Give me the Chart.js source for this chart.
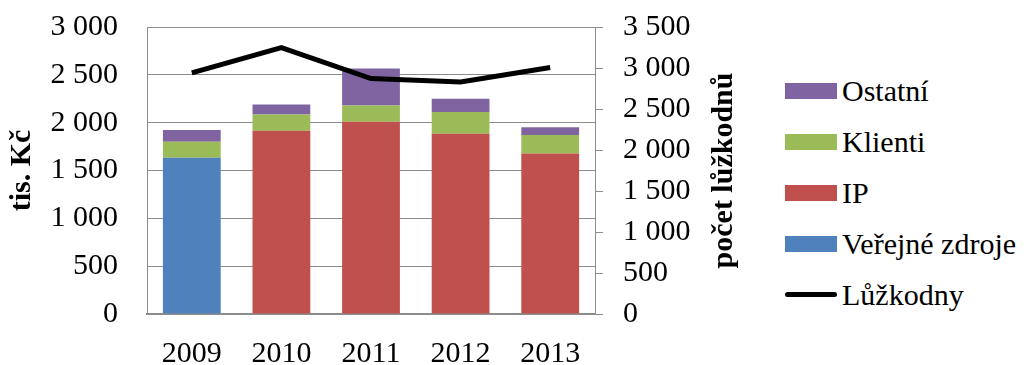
<!DOCTYPE html>
<html>
<head>
<meta charset="utf-8">
<script src="https://cdn.jsdelivr.net/npm/chart.js@4.4.1/dist/chart.umd.min.js"></script>
<style>
  html, body { margin: 0; padding: 0; background: #fff; }
  #wrap { position: relative; width: 1029px; height: 365px; }
  #box { position: absolute; left: 0; top: 0; width: 760px; height: 365px; }
  #legend { position: absolute; left: 785px; top: 65px; font-family: "Liberation Serif", "Times New Roman", serif; font-size: 30px; color: #000; }
  .item { display: flex; align-items: center; height: 51px; white-space: nowrap; }
  .swatch { width: 52px; height: 16px; margin-right: 5px; }
  .swatch.line { height: 5px; border-radius: 3px; }
</style>
</head>
<body>
<div id="wrap">
  <div id="box"><canvas id="chart"></canvas></div>
  <div id="legend"></div>
</div>
<script>
const years = ['2009', '2010', '2011', '2012', '2013'];

// financing sources, tis. Kč (stacked, bottom to top)
const verejneZdroje = [1634, 0, 0, 0, 0];
const ip = [0, 1916, 2010, 1885, 1679];
const klienti = [167, 170, 170, 226, 192];
const ostatni = [122, 105, 386, 139, 80];

// bed-days, right axis
const luzkodny = [2940, 3248, 2871, 2830, 3005];

const leftTicksMax = 3000;
const rightTicksMax = 3500;

const FONT = '"Liberation Serif", "Times New Roman", serif';
const GRID = '#8c8c8c';

const fmt = (v) => String(v).replace(/\B(?=(\d{3})+(?!\d))/g, ' ');

const barSeries = [
    { label: 'Veřejné zdroje', data: verejneZdroje, color: '#4f81bd' },
    { label: 'IP', data: ip, color: '#c0504d' },
    { label: 'Klienti', data: klienti, color: '#9bbb59' },
    { label: 'Ostatní', data: ostatni, color: '#8064a2' },
];

const datasets = [
    {
        type: 'line',
        label: 'Lůžkodny',
        data: luzkodny,
        yAxisID: 'y2',
        borderColor: '#000',
        borderWidth: 5,
        pointRadius: 0,
        tension: 0,
        order: 0,
    },
    ...barSeries.map((s) => ({
        type: 'bar',
        label: s.label,
        data: s.data,
        backgroundColor: s.color,
        yAxisID: 'y',
        stack: 'fin',
        categoryPercentage: 1,
        barPercentage: 0.645,
        order: 1,
    })),
];

// right axis title reads bottom-to-top, drawn by hand
const rightTitle = {
    id: 'rightTitle',
    afterDraw(chart) {
        const { ctx, chartArea } = chart;
        ctx.save();
        ctx.translate(724, (chartArea.top + chartArea.bottom) / 2);
        ctx.rotate(-Math.PI / 2);
        ctx.font = `bold 30px ${FONT}`;
        ctx.fillStyle = '#000';
        ctx.textAlign = 'center';
        ctx.textBaseline = 'middle';
        ctx.fillText('počet lůžkodnů', 0, 0);
        ctx.restore();
    },
};

// fixed axis width, no automatic overhang padding
const fitY = (w) => (s) => {
    s.width = w;
    s.paddingTop = 0;
    s.paddingBottom = 0;
};

new Chart(document.getElementById('chart'), {
    data: { labels: years, datasets },
    plugins: [rightTitle],
    options: {
        responsive: true,
        maintainAspectRatio: false,
        animation: false,
        layout: { padding: { top: 27, right: 0, bottom: 0, left: 0 } },
        plugins: { legend: { display: false }, tooltip: { enabled: false } },
        scales: {
            x: {
                stacked: true,
                grid: { display: false, drawTicks: false },
                border: { color: GRID, width: 2 },
                ticks: { color: '#000', font: { family: FONT, size: 30 }, padding: 22 },
                afterFit: (s) => { s.height = 51; s.paddingLeft = 0; s.paddingRight = 0; },
            },
            y: {
                position: 'left',
                stacked: true,
                min: 0,
                max: leftTicksMax,
                grid: { color: GRID, lineWidth: 1, drawTicks: false },
                border: { color: GRID, width: 1 },
                ticks: { stepSize: 500, color: '#000', font: { family: FONT, size: 30 }, padding: 29, callback: fmt },
                title: { display: true, text: 'tis. Kč', color: '#000', font: { family: FONT, size: 30, weight: 'bold' } },
                afterFit: fitY(147),
            },
            y2: {
                position: 'right',
                min: 0,
                max: rightTicksMax,
                grid: { drawOnChartArea: false, color: GRID, tickLength: 8 },
                border: { color: GRID, width: 1 },
                ticks: { stepSize: 500, autoSkip: false, color: '#000', font: { family: FONT, size: 30 }, padding: 20, callback: fmt },
                afterFit: fitY(165),
            },
        },
    },
});

// legend: stacked series top-down, then the line
const legendEl = document.getElementById('legend');
const legendItems = [...barSeries].reverse().map((s) => ({ label: s.label, color: s.color, line: false }))
    .concat([{ label: 'Lůžkodny', color: '#000', line: true }]);
legendItems.forEach((it) => {
    const row = document.createElement('div');
    row.className = 'item';
    const sw = document.createElement('span');
    sw.className = 'swatch' + (it.line ? ' line' : '');
    sw.style.background = it.color;
    const tx = document.createElement('span');
    tx.textContent = it.label;
    row.append(sw, tx);
    legendEl.appendChild(row);
});
</script>
</body>
</html>
